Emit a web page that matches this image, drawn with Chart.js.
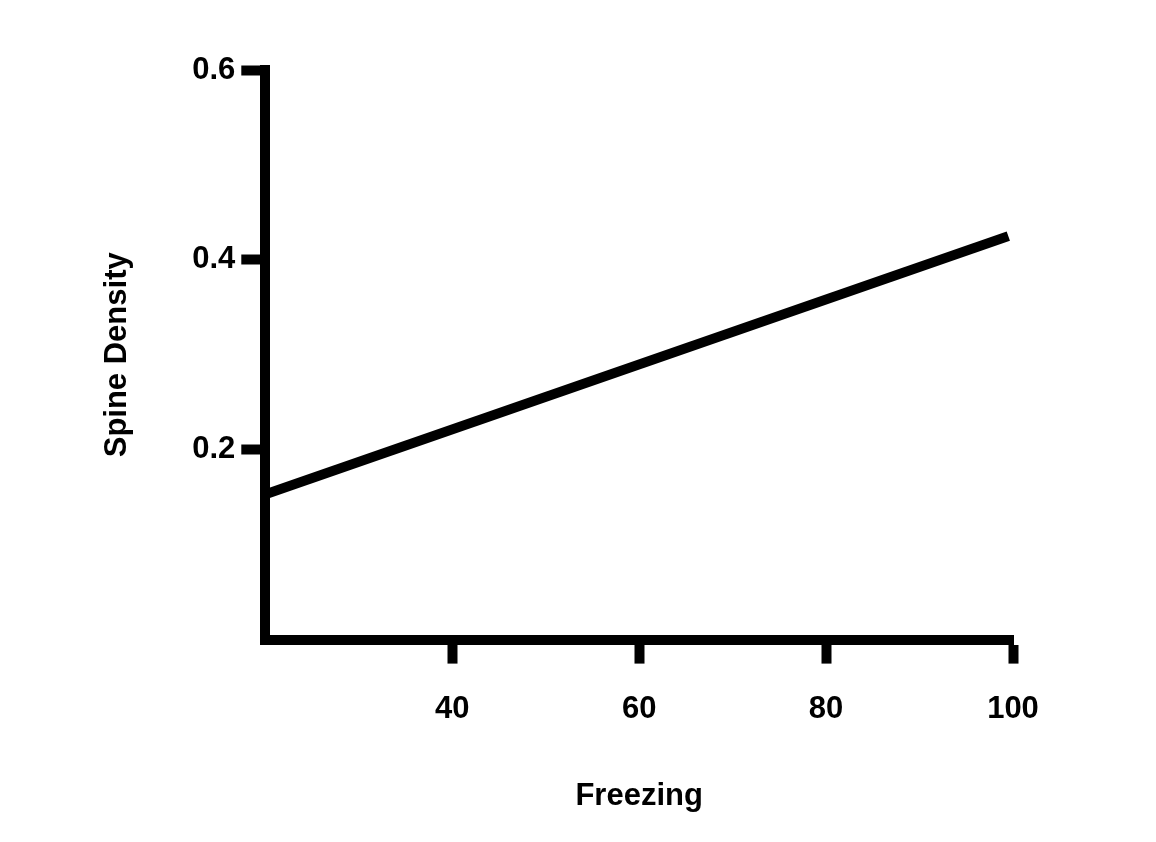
<!DOCTYPE html>
<html>
<head>
<meta charset="utf-8">
<script src="https://cdn.jsdelivr.net/npm/chart.js@4"></script>
<style>
html,body{margin:0;padding:0;background:#fff;}
#wrap{width:1156px;height:842px;}
</style>
</head>
<body>
<div id="wrap"><canvas id="c"></canvas></div>
<script>
// fit line: Freezing vs Spine Density
const freezing = [20, 99.5];
const density = [0.153, 0.425];
const xTicks = [40, 60, 80, 100];
const yTicks = [0.2, 0.4, 0.6];

const font = {family: "Liberation Sans, Arial, sans-serif", size: 31, weight: "bold"};

new Chart(document.getElementById("c"), {
type: "scatter",
data: {
datasets: [{
data: freezing.map((x, i) => ({x: x, y: density[i]})),
showLine: true,
borderColor: "#000",
borderWidth: 10,
pointRadius: 0,
fill: false
}]
},
options: {
responsive: true,
maintainAspectRatio: false,
animation: false,
layout: {padding: {top: 70, right: 143, bottom: 23, left: 95}},
plugins: {legend: {display: false}, tooltip: {enabled: false}},
scales: {
x: {
type: "linear", min: 20, max: 100,
afterBuildTicks: s => { s.ticks = xTicks.map(v => ({value: v})); },
grid: {drawOnChartArea: false, drawTicks: true, tickLength: 24, tickWidth: 10, tickColor: "#000"},
border: {color: "#000", width: 10},
ticks: {color: "#000", font: font, padding: 27},
title: {display: true, text: "Freezing", color: "#000", font: font, padding: {top: 23}}
},
y: {
min: 0, max: 0.6,
afterBuildTicks: s => { s.ticks = yTicks.map(v => ({value: v})); },
grid: {drawOnChartArea: false, drawTicks: true, tickLength: 24, tickWidth: 10, tickColor: "#000"},
border: {color: "#000", width: 10},
ticks: {color: "#000", font: font, padding: 6, callback: v => v.toFixed(1)},
title: {display: true, text: "Spine Density", color: "#000", font: font, padding: {bottom: 50}}
}
}
}
});
</script>
</body>
</html>
